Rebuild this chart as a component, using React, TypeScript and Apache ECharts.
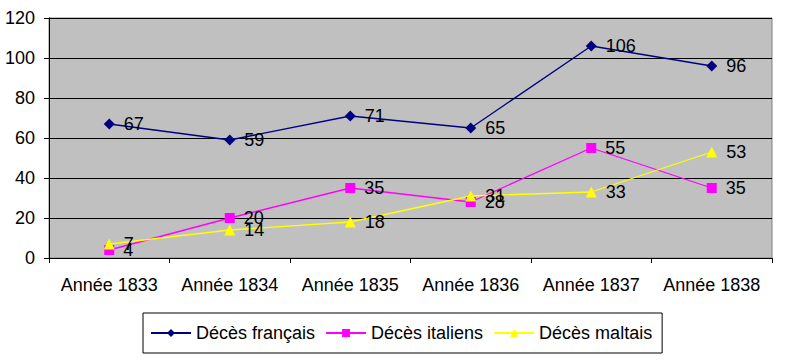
import React, { useEffect, useRef } from "react";
import * as echarts from "echarts";

const categories = ["Année 1833", "Année 1834", "Année 1835", "Année 1836", "Année 1837", "Année 1838"];
const francais = [67, 59, 71, 65, 106, 96];
const italiens = [4, 20, 35, 28, 55, 35];
const maltais = [7, 14, 18, 31, 33, 53];

const FONT = "'Liberation Sans', Arial, sans-serif";

export default function App() {
  const ref = useRef<HTMLDivElement>(null);
  useEffect(() => {
    const chart = echarts.init(ref.current!, null, { renderer: "svg" });
    const label = {
      show: true,
      position: "right" as const,
      distance: 9,
      color: "#000",
      fontSize: 18,
      fontFamily: FONT,
    };
    const mk = (name: string, data: number[], color: string, symbol: string, size: number) => ({
      name,
      type: "line" as const,
      data,
      symbol,
      symbolSize: size,
      showAllSymbol: true,
      lineStyle: { color, width: 1.3 },
      itemStyle: { color },
      label,
    });
    chart.setOption({
      animation: false,
      backgroundColor: "#fff",
      grid: {
        left: 49,
        right: 16,
        top: 18,
        bottom: 104,
        show: true,
        backgroundColor: "#C0C0C0",
        borderColor: "#808080",
        borderWidth: 1,
      },
      xAxis: {
        type: "category",
        data: categories,
        boundaryGap: true,
        axisLine: { lineStyle: { color: "#000" } },
        axisTick: { show: true, length: 5, lineStyle: { color: "#000" } },
        axisLabel: { color: "#000", fontSize: 18, fontFamily: FONT, margin: 18, interval: 0 },
      },
      yAxis: {
        type: "value",
        min: 0,
        max: 120,
        interval: 20,
        axisLine: { show: true, lineStyle: { color: "#000" } },
        axisTick: { show: true, length: 5, lineStyle: { color: "#000" } },
        axisLabel: { color: "#000", fontSize: 18, fontFamily: FONT, margin: 14 },
        splitLine: { lineStyle: { color: "#000", width: 1 } },
      },
      legend: {
        left: 143,
        top: 313,
        itemWidth: 40,
        itemHeight: 10,
        itemGap: 10,
        padding: [11, 10, 11, 7],
        borderColor: "#000",
        borderWidth: 1,
        textStyle: { color: "#000", fontSize: 18, fontFamily: FONT },
      },
      series: [
        mk("Décès français", francais, "#000080", "diamond", 11),
        mk("Décès italiens", italiens, "#FF00FF", "rect", 10),
        mk("Décès maltais", maltais, "#FFFF00", "triangle", 11),
      ],
    });
    return () => chart.dispose();
  }, []);
  return <div ref={ref} style={{ width: 788, height: 362, position: "absolute", left: 0, top: 0 }} />;
}
